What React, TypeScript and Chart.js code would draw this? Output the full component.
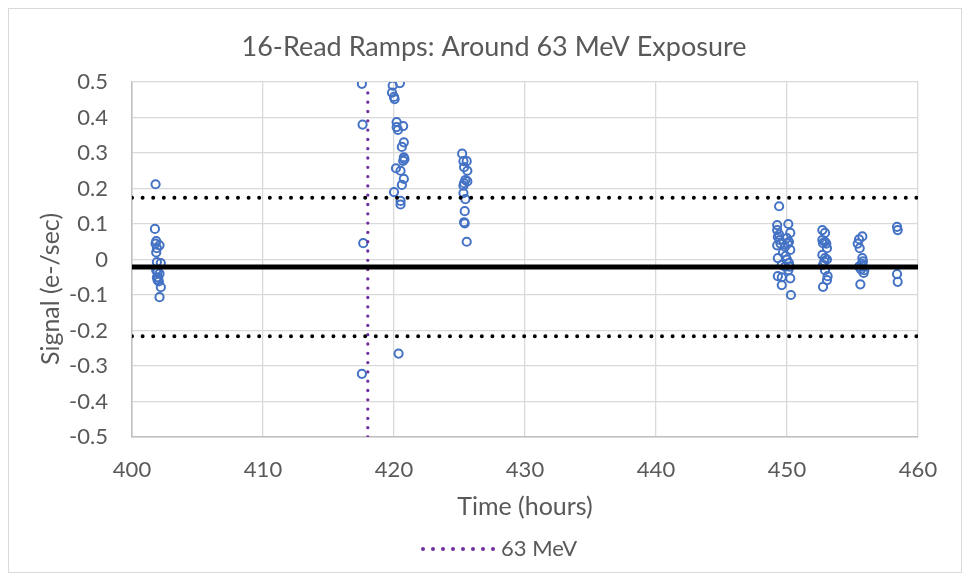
import React, { useEffect, useRef } from "react";
import { Chart, registerables } from "chart.js";

Chart.register(...registerables);

// ---------- data ----------
const chartTitle = "16-Read Ramps: Around 63 MeV Exposure";
const xTitle = "Time (hours)";
const yTitle = "Signal (e-/sec)";
const legendLabel = "63 MeV";

const xTickValues = [400, 410, 420, 430, 440, 450, 460];
const yTickValues = [-0.5, -0.4, -0.3, -0.2, -0.1, 0, 0.1, 0.2, 0.3, 0.4, 0.5];

const g1Hours = [401.8, 401.75, 401.85, 401.8, 401.9, 402.1, 401.85, 401.9, 402.2, 401.85, 401.95, 402.1, 401.9, 402.0, 401.95, 402.05, 402.2, 402.1];
const g1Signal = [0.212, 0.086, 0.052, 0.045, 0.032, 0.04, 0.02, -0.007, -0.01, -0.03, -0.035, -0.04, -0.05, -0.052, -0.058, -0.062, -0.078, -0.106];

const g2Hours = [417.55, 417.6, 417.65, 417.55];
const g2Signal = [0.495, 0.38, 0.046, -0.322];

const g3Hours = [419.9, 420.45, 419.85, 420.0, 420.05, 420.2, 420.2, 420.7, 420.3, 420.75, 420.6, 420.75, 420.8, 420.7, 420.15, 420.5, 420.75, 420.6, 420.0, 420.5, 420.5, 420.35];
const g3Signal = [0.49, 0.497, 0.47, 0.458, 0.452, 0.387, 0.373, 0.376, 0.365, 0.33, 0.317, 0.288, 0.283, 0.278, 0.257, 0.25, 0.227, 0.21, 0.19, 0.165, 0.155, -0.265];

const g4Hours = [425.2, 425.3, 425.55, 425.35, 425.6, 425.45, 425.35, 425.6, 425.3, 425.3, 425.45, 425.4, 425.35, 425.4, 425.55];
const g4Signal = [0.298, 0.277, 0.277, 0.26, 0.25, 0.224, 0.215, 0.22, 0.208, 0.187, 0.17, 0.136, 0.105, 0.102, 0.05];

const g5Hours = [449.4, 449.25, 450.1, 450.25, 449.25, 449.3, 449.45, 450.0, 450.15, 449.25, 449.85, 450.25, 449.3, 450.0, 449.6, 450.15, 449.85, 450.1, 449.3, 449.6, 450.25, 449.6, 450.3, 449.5, 449.7, 450.05, 449.4, 450.2, 449.9];
const g5Signal = [0.15, 0.097, 0.1, 0.075, 0.083, 0.064, 0.055, 0.06, 0.05, 0.04, 0.036, 0.027, 0.004, 0.0, -0.015, -0.01, -0.02, -0.03, -0.047, -0.05, -0.053, -0.072, -0.1, 0.045, 0.02, 0.045, 0.07, -0.02, 0.01];

const g6Hours = [452.7, 452.9, 452.7, 452.9, 452.75, 453.05, 452.7, 452.9, 453.05, 452.75, 452.9, 453.1, 453.05, 452.75, 453.0, 452.85];
const g6Signal = [0.083, 0.075, 0.055, 0.05, 0.046, 0.032, 0.013, 0.004, 0.0, -0.015, -0.03, -0.047, -0.058, -0.077, 0.045, -0.005];

const g7Hours = [455.75, 455.5, 455.4, 455.55, 455.75, 455.8, 455.5, 455.8, 455.65, 455.85, 455.6, 455.7, 455.9];
const g7Signal = [0.065, 0.057, 0.045, 0.032, 0.004, -0.005, -0.02, -0.02, -0.028, -0.038, -0.07, -0.012, -0.03];

const g8Hours = [458.4, 458.45, 458.4, 458.45];
const g8Signal = [0.092, 0.083, -0.041, -0.063];

const meanSignal = -0.021;
const upperLimit = 0.174;
const lowerLimit = -0.216;
const lineSpanHours = [400, 460];
const exposureHour = 418;
const exposureSpan = [-0.5, 0.483];

// ---------- styles ----------
const FONT = "Lato, 'Open Sans', sans-serif";
const TEXT = "#595959";
const BLUE = "#4472C4";
const PURPLE = "#7030A0";
const GRID = "#D9D9D9";

const zipPts = (xs: number[], ys: number[]) => xs.map((x, i) => ({ x, y: ys[i] }));

const allPoints = [
  ...zipPts(g1Hours, g1Signal),
  ...zipPts(g2Hours, g2Signal),
  ...zipPts(g3Hours, g3Signal),
  ...zipPts(g4Hours, g4Signal),
  ...zipPts(g5Hours, g5Signal),
  ...zipPts(g6Hours, g6Signal),
  ...zipPts(g7Hours, g7Signal),
  ...zipPts(g8Hours, g8Signal),
];

const hLine = (y: number) => lineSpanHours.map((x) => ({ x, y }));

const decorPlugin = {
  id: "decor",
  afterDraw(chart: any) {
    const ctx = chart.ctx as CanvasRenderingContext2D;
    // y axis title
    ctx.save();
    ctx.translate(42, 280);
    ctx.rotate(-Math.PI / 2);
    ctx.font = `25px ${FONT}`;
    ctx.fillStyle = TEXT;
    ctx.textAlign = "center";
    ctx.textBaseline = "middle";
    ctx.fillText(yTitle, 0, 0);
    ctx.restore();
    // legend
    ctx.save();
    ctx.strokeStyle = PURPLE;
    ctx.lineWidth = 4;
    ctx.lineCap = "round";
    ctx.setLineDash([0, 10]);
    ctx.beginPath();
    ctx.moveTo(414, 540);
    ctx.lineTo(484.5, 540);
    ctx.stroke();
    ctx.setLineDash([]);
    ctx.font = `22px ${FONT}`;
    ctx.fillStyle = TEXT;
    ctx.textAlign = "left";
    ctx.textBaseline = "middle";
    ctx.fillText(legendLabel, 492, 540);
    ctx.restore();
  },
};

export default function App() {
  const ref = useRef<HTMLCanvasElement | null>(null);

  useEffect(() => {
    if (!ref.current) return;
    const chart = new Chart(ref.current, {
      type: "scatter",
      data: {
        datasets: [
          {
            label: "mean",
            data: hLine(meanSignal),
            showLine: true,
            borderColor: "#000000",
            borderWidth: 5,
            pointRadius: 0,
          },
          {
            label: "upper",
            data: hLine(upperLimit),
            showLine: true,
            borderColor: "#000000",
            borderWidth: 4,
            borderDash: [0, 10.6],
            borderCapStyle: "round",
            pointRadius: 0,
          },
          {
            label: "lower",
            data: hLine(lowerLimit),
            showLine: true,
            borderColor: "#000000",
            borderWidth: 4,
            borderDash: [0, 10.6],
            borderCapStyle: "round",
            pointRadius: 0,
          },
          {
            label: legendLabel,
            data: exposureSpan.map((y) => ({ x: exposureHour, y })),
            showLine: true,
            borderColor: PURPLE,
            borderWidth: 3.3,
            borderDash: [0, 9.3],
            borderCapStyle: "round",
            pointRadius: 0,
          },
          {
            label: "ramps",
            data: allPoints,
            showLine: false,
            pointStyle: "circle",
            pointRadius: 4.1,
            pointBorderWidth: 2,
            pointBackgroundColor: "rgba(0,0,0,0)",
            pointBorderColor: BLUE,
          },
        ] as any,
      },
      options: {
        animation: false,
        responsive: false,
        maintainAspectRatio: false,
        layout: { padding: { left: 61, right: 43, top: 0, bottom: 35 } },
        plugins: {
          legend: { display: false },
          tooltip: { enabled: false },
          title: {
            display: true,
            text: chartTitle,
            color: TEXT,
            font: { family: FONT, size: 27, weight: "normal" },
            padding: { top: 22.3, bottom: 18.3 },
          },
        },
        scales: {
          x: {
            type: "linear",
            min: 400,
            max: 460,
            afterBuildTicks: (s: any) => {
              s.ticks = xTickValues.map((value) => ({ value }));
            },
            afterFit: (s: any) => {
              s.height = 100;
            },
            ticks: {
              color: TEXT,
              font: { family: FONT, size: 22 },
              padding: 20,
              maxRotation: 0,
              callback: (v: any) => String(v),
            },
            grid: { color: GRID, lineWidth: 1.3, drawTicks: false },
            border: { color: "#BFBFBF", width: 1.5 },
            title: {
              display: true,
              text: xTitle,
              color: TEXT,
              font: { family: FONT, size: 25 },
              padding: { top: 0, bottom: 15 },
            },
          },
          y: {
            type: "linear",
            min: -0.5,
            max: 0.5,
            afterBuildTicks: (s: any) => {
              s.ticks = yTickValues.map((value) => ({ value }));
            },
            afterFit: (s: any) => {
              s.width = 62;
            },
            ticks: {
              color: TEXT,
              font: { family: FONT, size: 22 },
              padding: 24,
              callback: (v: any) => String(Number(Number(v).toFixed(1))),
            },
            grid: { color: GRID, lineWidth: 1.3, drawTicks: false },
            border: { color: "#BFBFBF", width: 1.5 },
          },
        },
      },
      plugins: [decorPlugin],
    } as any);
    return () => chart.destroy();
  }, []);

  return (
    <div
      style={{
        width: 954,
        height: 565,
        border: "1px solid #D9D9D9",
        boxSizing: "border-box",
        background: "#ffffff",
      }}
    >
      <canvas ref={ref} width={952} height={563} style={{ display: "block", width: 952, height: 563 }} />
    </div>
  );
}
